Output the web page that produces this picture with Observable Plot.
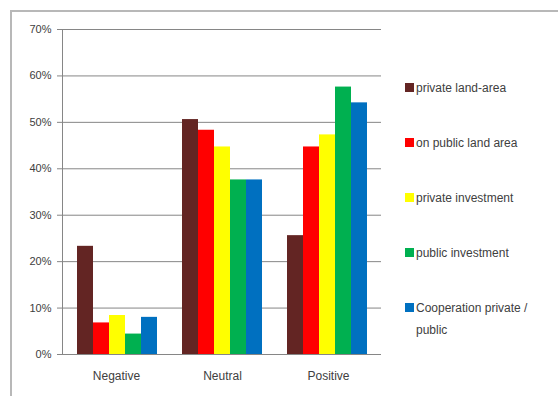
<!DOCTYPE html>
<html><head><meta charset="utf-8">
<script src="https://cdn.jsdelivr.net/npm/d3@7"></script>
<script src="https://cdn.jsdelivr.net/npm/@observablehq/plot@0.6"></script>
<style>
body{margin:0;background:#fff;}
#wrap{position:relative;width:558px;height:396px;overflow:hidden;font-family:"Liberation Sans",Arial,sans-serif;background:#fff;}
#border{position:absolute;left:10px;top:10px;width:600px;height:500px;border:2px solid #b8b8b8;box-sizing:border-box;}
.layer{position:absolute;left:0;top:0;}
#legend{position:absolute;left:405px;top:77px;width:150px;}
.item{display:flex;align-items:flex-start;height:55px;font-size:12px;color:#404040;line-height:22px;}
.sw{width:9px;height:9px;margin-top:6px;margin-right:2px;flex:none;}
</style>
</head><body>
<div id="wrap"><div id="border"></div><div id="l1" class="layer"></div><div id="l2" class="layer"></div><div id="legend"></div></div>
<script>
const categories = ["Negative", "Neutral", "Positive"];
const series = ["private land-area", "on public land area", "private investment", "public investment", "Cooperation private / public"];
const colors = ["#632523", "#FF0000", "#FFFF00", "#00B050", "#0070C0"];
const privateLand = [0.233, 0.506, 0.256];
const publicLand = [0.068, 0.483, 0.447];
const privateInvest = [0.084, 0.447, 0.473];
const publicInvest = [0.044, 0.376, 0.576];
const cooperation = [0.080, 0.376, 0.542];
const yTicks = [0, 0.1, 0.2, 0.3, 0.4, 0.5, 0.6, 0.7];

const valuesBySeries = [privateLand, publicLand, privateInvest, publicInvest, cooperation];
const rows = [];
categories.forEach((c, i) => series.forEach((s, j) => rows.push({category: c, series: s, value: valuesBySeries[j][i]})));

const dims = {width: 558, height: 396, marginLeft: 62, marginRight: 177, marginTop: 29, marginBottom: 42};
const bandPad = {paddingInner: 0.226, paddingOuter: 0.118};

const p1 = Plot.plot({
  ...dims,
  style: {fontFamily: '"Liberation Sans", Arial, sans-serif', background: "transparent"},
  x: {domain: categories, ...bandPad},
  y: {domain: [0, 0.7]},
  marks: [
    Plot.gridY(yTicks, {stroke: "#868686", strokeOpacity: 1}),
    Plot.axisY(yTicks, {tickFormat: d3.format(".0%"), tickSize: 5, tickPadding: 6, fontSize: 11, fill: "#404040", stroke: "#868686", label: null}),
    Plot.axisX({tickSize: 0, tickPadding: 17, fontSize: 12, fill: "#404040", label: null}),
    Plot.frame({anchor: "left", stroke: "#868686"})
  ]
});
document.getElementById("l1").appendChild(p1);

const p2 = Plot.plot({
  ...dims,
  style: {background: "transparent"},
  fx: {domain: categories, ...bandPad, axis: null, label: null},
  x: {domain: series, padding: 0, axis: null},
  y: {domain: [0, 0.7], axis: null},
  color: {domain: series, range: colors},
  marks: [
    Plot.barY(rows, {fx: "category", x: "series", y: "value", fill: "series"})
  ]
});
document.getElementById("l2").appendChild(p2);

const lg = document.getElementById("legend");
series.forEach((s, j) => {
  const it = document.createElement("div");
  it.className = "item";
  const sw = document.createElement("div");
  sw.className = "sw";
  sw.style.background = colors[j];
  const t = document.createElement("div");
  t.textContent = s;
  it.appendChild(sw); it.appendChild(t);
  lg.appendChild(it);
});
</script>
</body></html>
